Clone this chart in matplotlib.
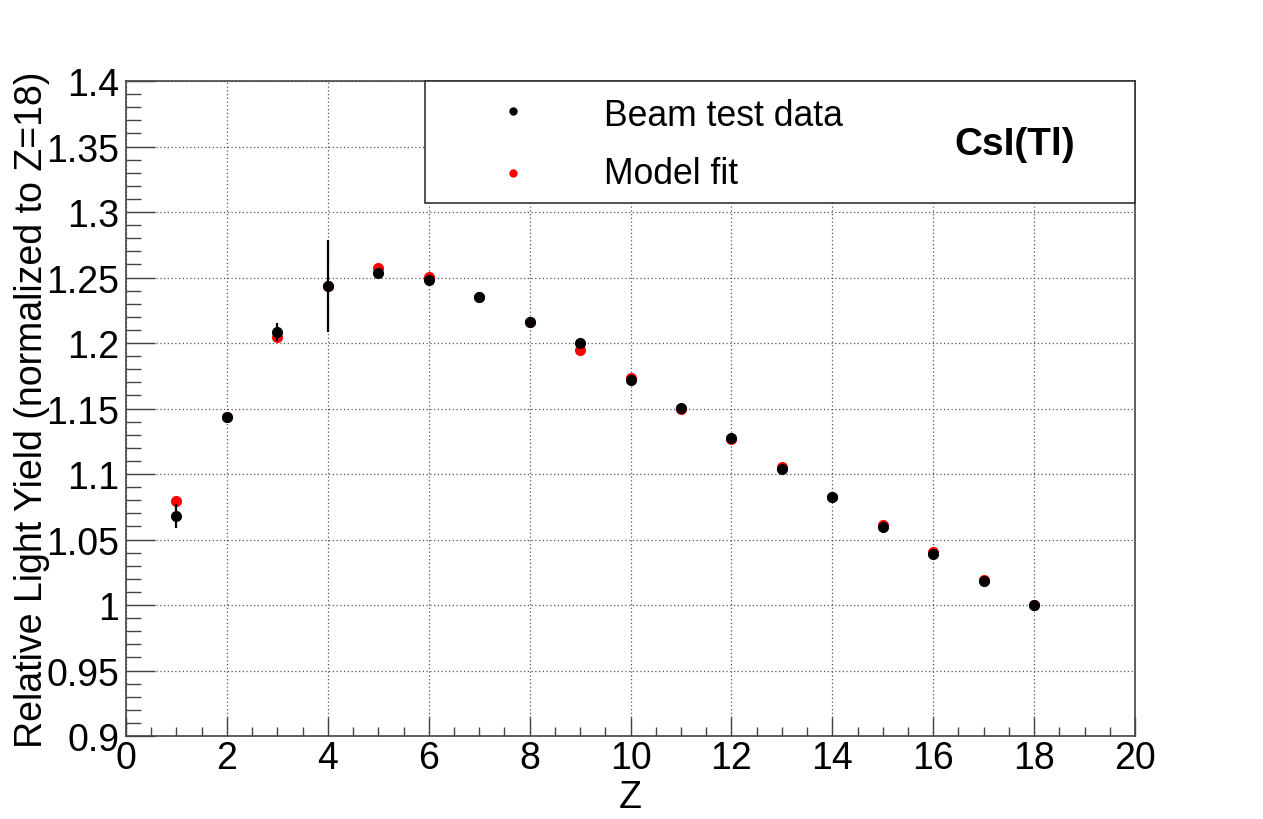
import numpy as np
import matplotlib
matplotlib.use('Agg')
import matplotlib.pyplot as plt
from matplotlib.patches import Rectangle
from matplotlib.ticker import MultipleLocator

plt.rcParams['font.family'] = ['Liberation Sans', 'DejaVu Sans']

# Data
z = [1, 2, 3, 4, 5, 6, 7, 8, 9, 10, 11, 12, 13, 14, 15, 16, 17, 18]
data_y = [1.0682, 1.1435, 1.2086, 1.2435, 1.2534, 1.2481, 1.2354, 1.2160, 1.1998,
          1.1720, 1.1504, 1.1277, 1.1040, 1.0827, 1.0593, 1.0387, 1.0186, 1.0000]
data_err = [0.0092, 0.0, 0.0068, 0.0350, 0.0, 0.0, 0.0, 0.0, 0.0,
            0.0, 0.0, 0.0, 0.0, 0.0, 0.0, 0.0, 0.0, 0.0]
fit_y = [1.0796, 1.1435, 1.2046, 1.2435, 1.2570, 1.2504, 1.2354, 1.2160, 1.1947,
         1.1730, 1.1496, 1.1267, 1.1050, 1.0827, 1.0608, 1.0402, 1.0193, 1.0000]

x_ticks = [0, 2, 4, 6, 8, 10, 12, 14, 16, 18, 20]
y_ticks = [0.9, 0.95, 1.0, 1.05, 1.1, 1.15, 1.2, 1.25, 1.3, 1.35, 1.4]
y_tick_labels = ['0.9', '0.95', '1', '1.05', '1.1', '1.15', '1.2', '1.25', '1.3', '1.35', '1.4']

fig = plt.figure(figsize=(12.63, 8.2), dpi=100)
ax = fig.add_axes([0.0998, 0.1012, 0.7989, 0.7988])

ax.set_xlim(0, 20)
ax.set_ylim(0.9, 1.4)

# grid
ax.grid(True, which='major', color='#555555', linestyle=(0, (1, 2)), linewidth=0.9)
ax.set_axisbelow(True)

# model fit first, data on top
ax.plot(z, fit_y, 'o', color='red', markersize=8, markeredgewidth=0, zorder=4)
ax.errorbar(z, data_y, yerr=data_err, fmt='o', color='black', markersize=8,
            markeredgewidth=0, elinewidth=1.6, capsize=3, capthick=1.8, zorder=5)

# ticks
ax.set_xticks(x_ticks)
ax.set_xticklabels([str(t) for t in x_ticks])
ax.set_yticks(y_ticks)
ax.set_yticklabels(y_tick_labels)
ax.xaxis.set_minor_locator(MultipleLocator(0.5))
ax.yaxis.set_minor_locator(MultipleLocator(0.01))
ax.tick_params(axis='both', which='both', direction='in', colors='#444444',
               labelcolor='black', labelsize=27, width=1.0)
ax.tick_params(axis='x', which='major', length=14, pad=3)
ax.tick_params(axis='x', which='minor', length=6.5)
ax.tick_params(axis='y', which='major', length=21, pad=5)
ax.tick_params(axis='y', which='minor', length=11)
for sp in ax.spines.values():
    sp.set_color('#444444')
    sp.set_linewidth(1.2)

ax.set_xlabel('Z', fontsize=27, va='center')
ax.xaxis.set_label_coords(0.5, -0.093)
ax.set_ylabel('Relative Light Yield (normalized to Z=18)', fontsize=27, va='center')
ax.yaxis.set_label_coords(-0.093, 0.5)

# legend box drawn by hand, ROOT style
ax.add_patch(Rectangle((0.296, 0.8145), 0.704, 0.1855, transform=ax.transAxes,
                       facecolor='white', edgecolor='#333333', linewidth=1.2,
                       zorder=6, clip_on=False))
ax.plot([0.3836], [0.954], 'o', color='black', markersize=6, markeredgewidth=0,
        transform=ax.transAxes, zorder=7, clip_on=False)
ax.plot([0.3836], [0.8595], 'o', color='red', markersize=6, markeredgewidth=0,
        transform=ax.transAxes, zorder=7, clip_on=False)
ax.text(0.4737, 0.948, 'Beam test data', transform=ax.transAxes, fontsize=25.6,
        ha='left', va='center', zorder=7)
ax.text(0.4737, 0.8595, 'Model fit', transform=ax.transAxes, fontsize=25.6,
        ha='left', va='center', zorder=7)
ax.text(0.881, 0.904, 'CsI(Tl)', transform=ax.transAxes, fontsize=28,
        fontweight='bold', ha='center', va='center', zorder=7)

fig.savefig('out.png', dpi=100)
